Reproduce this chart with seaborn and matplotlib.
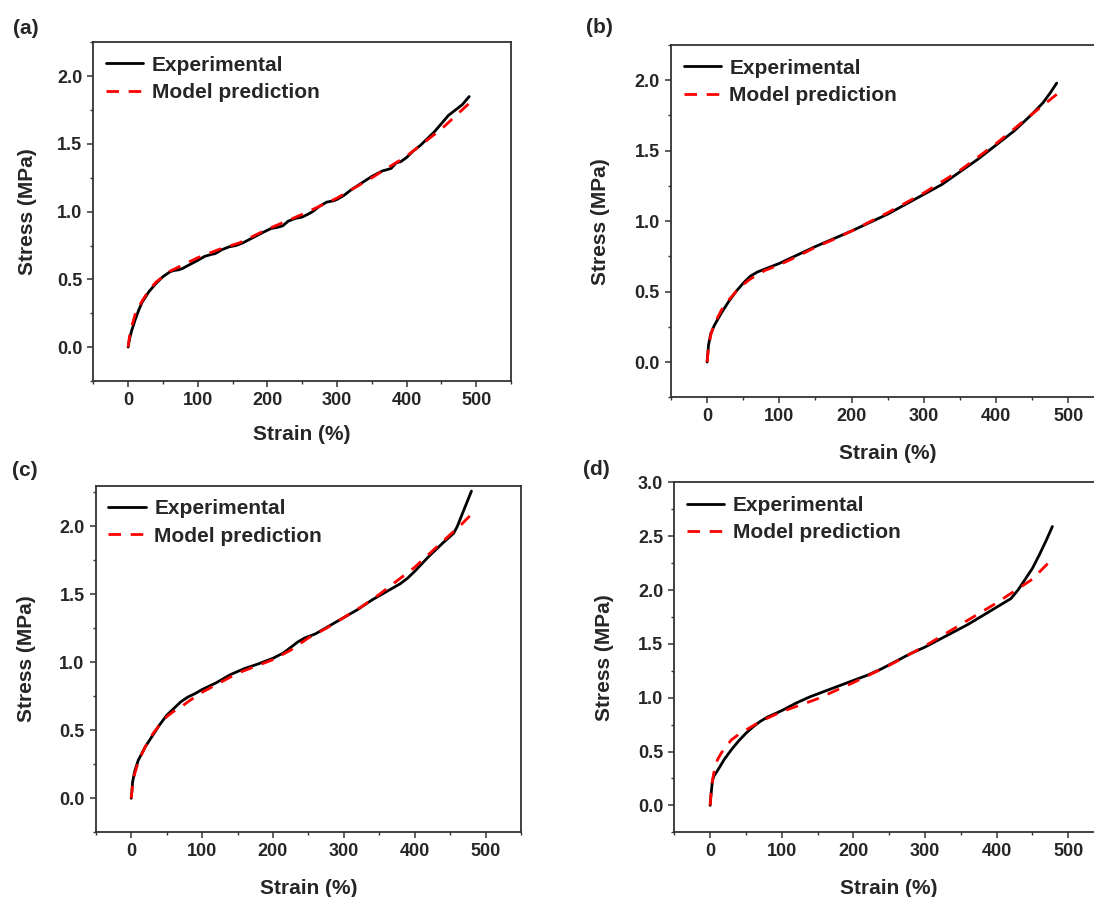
import matplotlib
matplotlib.use("Agg")
import matplotlib.pyplot as plt
from matplotlib.ticker import MultipleLocator
import pandas as pd
import seaborn as sns

# ---- data ----
# (a)
strain_a_exp = [0, 2, 5, 10, 15, 20, 30, 40, 50, 60, 65, 72, 78, 85, 100, 110, 120, 125, 135, 145,
                155, 165, 180, 195, 205, 215, 222, 230, 240, 250, 258, 265, 275, 285, 295, 300, 310,
                320, 335, 350, 365, 372, 378, 385, 392, 400, 410, 420, 430, 440, 450, 460, 470, 480, 490]
stress_a_exp = [0, 0.06, 0.12, 0.2, 0.27, 0.33, 0.41, 0.47, 0.52, 0.555, 0.565, 0.57, 0.58, 0.6, 0.64,
                0.67, 0.685, 0.69, 0.72, 0.74, 0.75, 0.77, 0.81, 0.85, 0.875, 0.885, 0.895, 0.93, 0.95,
                0.96, 0.98, 1.0, 1.04, 1.07, 1.08, 1.09, 1.12, 1.16, 1.21, 1.26, 1.3, 1.31, 1.32, 1.36,
                1.37, 1.4, 1.45, 1.49, 1.54, 1.59, 1.65, 1.71, 1.75, 1.79, 1.85]
strain_a_mod = [0, 2, 5, 10, 20, 30, 40, 60, 80, 100, 130, 160, 200, 250, 300, 350, 400, 450, 490]
stress_a_mod = [0, 0.08, 0.15, 0.24, 0.34, 0.42, 0.48, 0.56, 0.61, 0.66, 0.72, 0.77, 0.87, 0.98,
                1.1, 1.25, 1.41, 1.61, 1.8]

# (b)
strain_b_exp = [0, 2, 5, 10, 20, 30, 40, 50, 60, 70, 85, 100, 125, 150, 175, 200, 225, 250, 275,
                300, 325, 350, 375, 400, 425, 450, 465, 475, 484]
stress_b_exp = [0, 0.12, 0.2, 0.26, 0.35, 0.43, 0.5, 0.56, 0.61, 0.64, 0.67, 0.7, 0.76, 0.82, 0.875,
                0.93, 0.99, 1.05, 1.12, 1.19, 1.26, 1.35, 1.44, 1.54, 1.64, 1.76, 1.84, 1.91, 1.98]
strain_b_mod = [0, 2, 5, 10, 20, 30, 40, 50, 60, 80, 100, 125, 150, 175, 200, 250, 300, 350, 400,
                450, 484]
stress_b_mod = [0, 0.1, 0.19, 0.27, 0.37, 0.44, 0.5, 0.55, 0.59, 0.65, 0.69, 0.75, 0.815, 0.87,
                0.93, 1.06, 1.2, 1.36, 1.55, 1.76, 1.9]

# (c)
strain_c_exp = [0, 1, 2, 5, 10, 20, 30, 40, 50, 60, 70, 80, 90, 100, 120, 140, 160, 180, 200, 215,
                225, 235, 245, 260, 270, 280, 300, 320, 340, 360, 370, 380, 390, 400, 420, 440, 455,
                460, 470, 480]
stress_c_exp = [0, 0.05, 0.12, 0.2, 0.28, 0.38, 0.46, 0.54, 0.61, 0.66, 0.71, 0.745, 0.77, 0.8, 0.85,
                0.91, 0.955, 0.99, 1.03, 1.07, 1.11, 1.15, 1.18, 1.21, 1.24, 1.27, 1.33, 1.39, 1.46,
                1.52, 1.55, 1.58, 1.62, 1.67, 1.78, 1.88, 1.95, 2.0, 2.13, 2.26]
strain_c_mod = [0, 2, 5, 10, 20, 30, 40, 50, 60, 70, 80, 100, 125, 150, 175, 200, 225, 250, 275,
                300, 325, 350, 375, 400, 425, 450, 465, 480]
stress_c_mod = [0, 0.1, 0.18, 0.27, 0.38, 0.47, 0.54, 0.6, 0.64, 0.67, 0.71, 0.78, 0.85, 0.92, 0.97,
                1.02, 1.09, 1.18, 1.25, 1.33, 1.41, 1.5, 1.6, 1.7, 1.82, 1.94, 2.01, 2.09]

# (d)
strain_d_exp = [0, 1, 2, 3, 5, 10, 20, 30, 40, 50, 60, 70, 80, 100, 120, 140, 160, 180, 200, 220,
                240, 260, 280, 300, 320, 340, 360, 380, 400, 420, 430, 440, 450, 460, 470, 478]
stress_d_exp = [0, 0.08, 0.15, 0.22, 0.27, 0.32, 0.43, 0.52, 0.6, 0.67, 0.73, 0.78, 0.82, 0.88, 0.95,
                1.01, 1.06, 1.11, 1.16, 1.21, 1.27, 1.34, 1.41, 1.47, 1.54, 1.61, 1.68, 1.76, 1.84,
                1.92, 2.0, 2.1, 2.2, 2.33, 2.47, 2.59]
strain_d_mod = [0, 2, 5, 10, 15, 20, 30, 40, 50, 70, 100, 150, 200, 250, 300, 350, 400, 450, 478]
stress_d_mod = [0, 0.18, 0.3, 0.42, 0.48, 0.53, 0.61, 0.66, 0.7, 0.78, 0.87, 0.99, 1.14, 1.3, 1.48,
                1.68, 1.88, 2.1, 2.29]

panel_labels = ["(a)", "(b)", "(c)", "(d)"]
legend_labels = ["Experimental", "Model prediction"]

sns.set_style("ticks")
plt.rcParams["font.family"] = ["Liberation Sans", "DejaVu Sans"]
plt.rcParams["font.weight"] = "bold"

fig = plt.figure(figsize=(10.94, 8.97), dpi=100)

# axes rectangles (figure fraction); (b) and (d) run off the right edge like the original
rects = [
    [0.0853, 0.5753, 0.3818, 0.3775],
    [0.6133, 0.5571, 0.3962, 0.3927],
    [0.0875, 0.0721, 0.3888, 0.3865],
    [0.6164, 0.0721, 0.3927, 0.3902],
]
ylims = [(-0.25, 2.25), (-0.25, 2.25), (-0.25, 2.3), (-0.25, 3.0)]
ylab_x = [-0.134, -0.141, -0.140, -0.140]
xlab_y = [-0.129, -0.132, -0.134, -0.132]
label_pos = [(0.0238, 0.9677), (0.548, 0.969), (0.0229, 0.476), (0.545, 0.477)]

data = [
    (strain_a_exp, stress_a_exp, strain_a_mod, stress_a_mod),
    (strain_b_exp, stress_b_exp, strain_b_mod, stress_b_mod),
    (strain_c_exp, stress_c_exp, strain_c_mod, stress_c_mod),
    (strain_d_exp, stress_d_exp, strain_d_mod, stress_d_mod),
]

for i, (xe, ye, xm, ym) in enumerate(data):
    ax = fig.add_axes(rects[i])
    exp = pd.DataFrame({"Strain": xe, "Stress": ye})
    mod = pd.DataFrame({"Strain": xm, "Stress": ym})
    sns.lineplot(data=exp, x="Strain", y="Stress", ax=ax, color="black", lw=2.0,
                 estimator=None, label=legend_labels[0])
    sns.lineplot(data=mod, x="Strain", y="Stress", ax=ax, color="#ff0000", lw=2.0,
                 estimator=None, label=legend_labels[1])
    ax.lines[1].set_dashes((4.5, 3.5))

    ax.set_xlim(-50, 550)
    ax.set_ylim(*ylims[i])
    ax.xaxis.set_major_locator(MultipleLocator(100))
    ax.xaxis.set_minor_locator(MultipleLocator(50))
    ax.yaxis.set_major_locator(MultipleLocator(0.5))
    ax.yaxis.set_minor_locator(MultipleLocator(0.25))
    ax.tick_params(which="major", direction="out", length=4.5, width=1.1, labelsize=13, color="#333333")
    ax.tick_params(which="minor", direction="out", length=2.5, width=1.0, color="#333333")
    for lab in ax.get_xticklabels() + ax.get_yticklabels():
        lab.set_fontweight("bold")
    for s in ax.spines.values():
        s.set_color("#333333")
        s.set_linewidth(1.3)

    ax.set_xlabel("Strain (%)", fontsize=15, fontweight="bold")
    ax.set_ylabel("Stress (MPa)", fontsize=15, fontweight="bold")
    ax.yaxis.set_label_coords(ylab_x[i], 0.5)
    ax.xaxis.set_label_coords(0.5, xlab_y[i])

    leg = ax.legend(loc="upper left", bbox_to_anchor=(0.01, 0.985), frameon=False,
                    prop={"size": 15, "weight": "bold"}, handlelength=1.8,
                    handletextpad=0.4, labelspacing=0.4, borderpad=0.2, borderaxespad=0.2)

    fig.text(label_pos[i][0], label_pos[i][1], panel_labels[i], fontsize=15,
             fontweight="bold", ha="center", va="center")

fig.savefig("out.png", dpi=100, facecolor="white")
